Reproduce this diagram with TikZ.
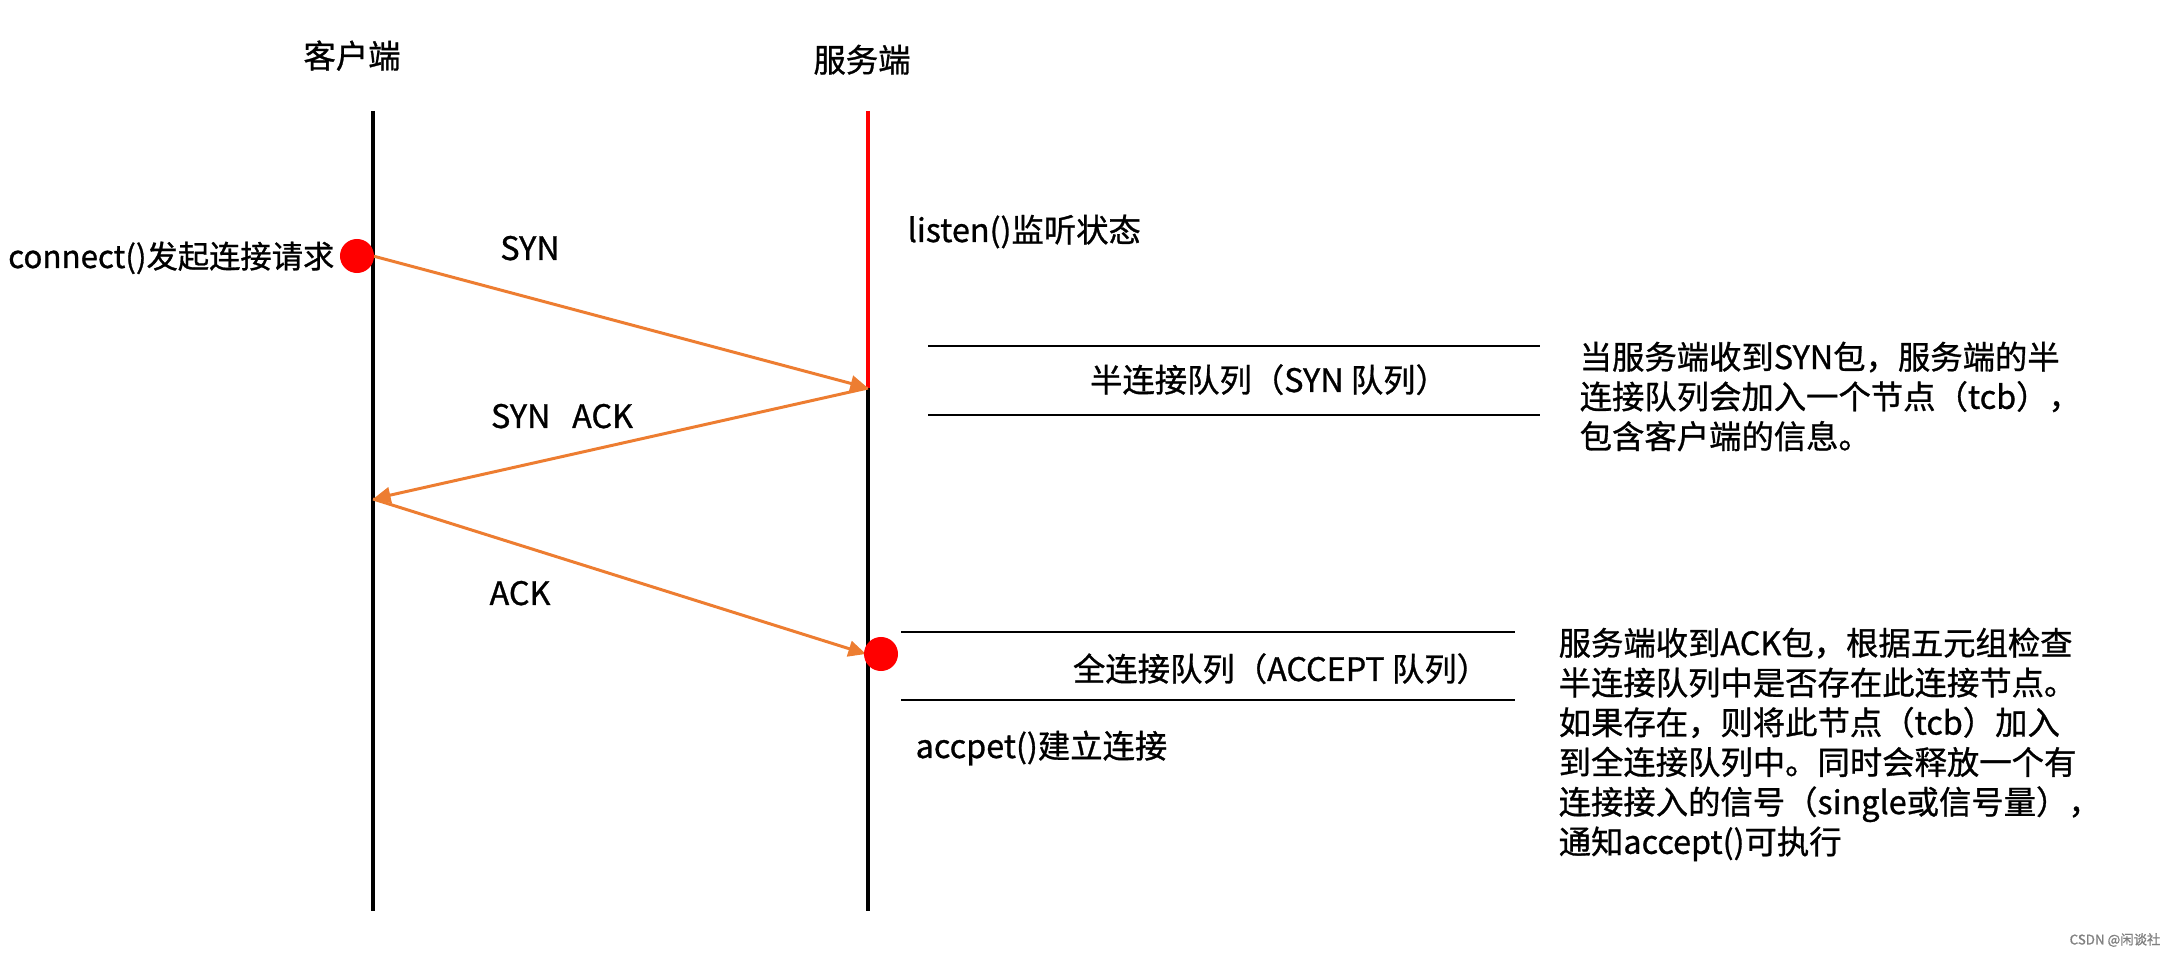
\documentclass[tikz,border=0pt]{standalone}
\usepackage{xcolor}
\usepackage{fontspec}
\setmainfont{Noto Sans CJK SC}[FakeBold=0.9]
\usetikzlibrary{arrows.meta}

\definecolor{msgorange}{HTML}{ED7D31}

\begin{document}
\begin{tikzpicture}[
  x=0.01cm, y=-0.01cm,
  lbl/.style={inner sep=0pt, font=\fontsize{9.2pt}{11.3pt}\selectfont},
  note/.style={lbl, align=left, anchor=north west},
  life/.style={line width=1.15pt},
  queue/.style={line width=0.85pt},
  msg/.style={-{Triangle[length=5pt,width=4.5pt]}, line width=0.85pt, draw=msgorange},
  dot/.style={circle, fill=red, minimum size=0.34cm, inner sep=0pt}
]
  \useasboundingbox (0,0) rectangle (2181,958);

  % lifelines
  \coordinate (ctop) at (373,111);
  \coordinate (cbot) at (373,911);
  \coordinate (stop) at (868,111);
  \coordinate (sbot) at (868,911);
  \coordinate (c1) at (373,256);
  \coordinate (c2) at (373,499);
  \coordinate (s1) at (868,388);
  \coordinate (s3) at (866,654);
  \node[lbl, anchor=base] (client) at (352,68) {客户端};
  \node[lbl, anchor=base] (server) at (862,72) {服务端};
  \draw[life] (ctop) -- (cbot);
  \draw[life, red] (stop) -- (s1);
  \draw[life] (s1) -- (sbot);

  % handshake
  \draw[msg] (c1) -- (s1);
  \draw[msg] (s1) -- (c2);
  \draw[msg] (c2) -- (s3);
  \node[dot] (conndot) at (357,256) {};
  \node[dot] (acceptdot) at (881,654) {};
  \node[lbl, anchor=base east, font=\fontsize{8.9pt}{11pt}\selectfont] (connect) at (335,268) {connect()发起连接请求};
  \node[lbl, anchor=base] (syn) at (530,260) {SYN};
  \node[lbl, anchor=base] (synack) at (562,428) {SYN\ \ \ ACK};
  \node[lbl, anchor=base] (ack) at (520,605) {ACK};
  \node[lbl, anchor=base west] (listen) at (907,242) {listen()监听状态};
  \node[lbl, anchor=base west] (accept) at (915,758) {accpet()建立连接};

  % queues
  \coordinate (hq1) at (928,346);
  \coordinate (hq2) at (1540,346);
  \coordinate (hq3) at (928,415);
  \coordinate (hq4) at (1540,415);
  \coordinate (fq1) at (901,632);
  \coordinate (fq2) at (1515,632);
  \coordinate (fq3) at (901,700);
  \coordinate (fq4) at (1515,700);
  \draw[queue] (hq1) -- (hq2);
  \draw[queue] (hq3) -- (hq4);
  \draw[queue] (fq1) -- (fq2);
  \draw[queue] (fq3) -- (fq4);
  \node[lbl, anchor=base] (halfq) at (1269,392) {半连接队列（SYN 队列）};
  \node[lbl, anchor=base] (fullq) at (1281,681) {全连接队列（ACCEPT 队列）};

  % notes
  \node[note] (halfnote) at (1579,341) {当服务端收到SYN包，服务端的半\\连接队列会加入一个节点（tcb），\\包含客户端的信息。};
  \node[note] (fullnote) at (1558,627) {服务端收到ACK包，根据五元组检查\\半连接队列中是否存在此连接节点。\\如果存在，则将此节点（tcb）加入\\到全连接队列中。同时会释放一个有\\连接接入的信号（single或信号量），\\通知accept()可执行};

  \node[inner sep=0pt, font=\fontsize{3.8pt}{4.5pt}\selectfont, text=gray] (mark) at (2115,940) {CSDN @闲谈社};
\end{tikzpicture}
\end{document}
